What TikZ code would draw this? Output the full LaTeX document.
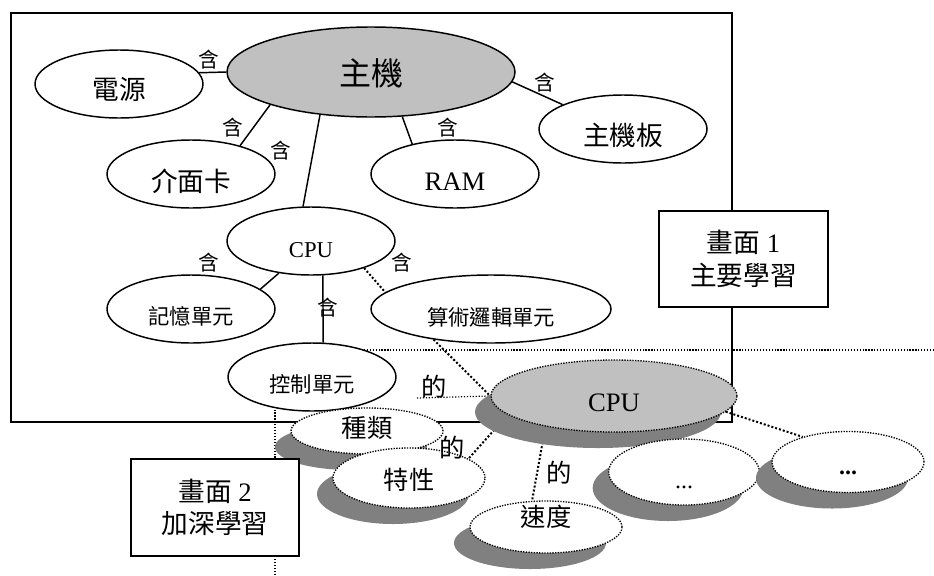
\documentclass[tikz,border=0pt]{standalone}
\usepackage{fontspec}
\setmainfont{Liberation Serif}
\newfontfamily\cjk{Noto Sans CJK TC}
\usetikzlibrary{shapes.geometric,shadows,backgrounds}
\definecolor{fillgray}{HTML}{C0C0C0}
\definecolor{shgray}{HTML}{808080}
\tikzset{
  solidell/.style={ellipse, draw, line width=1.1pt, fill=white, inner sep=0pt,
    minimum width=126pt, minimum height=51pt, text depth=0pt},
  dotell/.style={ellipse, draw, line width=1pt, dash pattern=on 1pt off 1pt,
    fill=white, inner sep=0pt, minimum width=114pt, text depth=0pt,
    drop shadow={shadow xshift=-12pt, shadow yshift=-12pt, fill=shgray, opacity=1}},
  fa/.style={font=\cjk\fontsize{20}{24}\selectfont},
  fb/.style={font=\cjk\fontsize{16}{20}\selectfont},
  fc/.style={font=\cjk\fontsize{19}{22}\selectfont},
  lbl/.style={inner sep=0pt, font=\cjk\fontsize{15.5}{17}\selectfont},
  dlbl/.style={inner sep=0pt, font=\cjk\fontsize{19}{22}\selectfont},
  conn/.style={line width=1.1pt},
  dconn/.style={line width=1.5pt, dash pattern=on 1.5pt off 1.5pt},
  guide/.style={line width=0.9pt, dash pattern=on 0.9pt off 1.3pt},
  screenbox/.style={draw, fill=white, line width=1.1pt, inner sep=0pt, align=center,
    font=\fontsize{20}{24.5}\selectfont},
}
\begin{document}
\begin{tikzpicture}[x=0.75pt, y=-0.75pt]
\useasboundingbox (0,0) rectangle (934,575);

% upper panel nodes
\node[solidell, fill=fillgray, minimum width=216pt, minimum height=67.5pt,
  font=\cjk\fontsize{24}{28}\selectfont] (zhuji) at (371,72) {主機};
\node[solidell, fa, text height=22.7pt] (dianyuan) at (119,84) {電源};
\node[solidell, fa, text height=25.7pt] (jiemian) at (191,174) {介面卡};
\node[solidell, font=\fontsize{20}{24}\selectfont, text height=25.2pt] (ram) at (455,174) {RAM};
\node[solidell, fa, text height=24.2pt] (zhujiban) at (623,129) {主機板};
\node[solidell, font=\fontsize{17}{20}\selectfont, text height=24.7pt] (cpu) at (311,241) {CPU};
\node[solidell, fb, text height=22.7pt] (jiyi) at (191,309) {記憶單元};
\node[solidell, fb, minimum width=180pt, text height=24.2pt] (suanshu) at (491,309) {算術邏輯單元};
\node[solidell, fb, text height=22.7pt] (kongzhi) at (312,377) {控制單元};

% lower panel nodes
\node[dotell, fc, minimum height=34.5pt, text height=10pt] (zhonglei) at (367,431) {種類};
\node[dotell, fc, minimum height=45pt, text height=17.4pt] (texing) at (409,478) {特性};
\node[dotell, fc, minimum height=39pt, text height=0pt, text depth=0.6pt] (sudu) at (546,527) {速度};
\node[dotell, fill=fillgray, minimum width=184.5pt, minimum height=54pt,
  font=\fontsize{20}{24}\selectfont, text height=23.7pt] (cpu2) at (614,396) {CPU};
\node[dotell, minimum width=113pt, minimum height=49.5pt,
  font=\fontsize{18}{20}\selectfont, text height=25pt] (etca) at (684,472) {...};
\node[dotell, minimum height=45.75pt,
  font=\bfseries\fontsize{18}{20}\selectfont, text height=19pt] (etcb) at (848,462) {...};

% screen boxes
\node[screenbox, minimum width=126.75pt, minimum height=72pt] (scra) at (743.5,259)
  {{\cjk 畫面} 1\\{\cjk 主要學習}};
\node[screenbox, minimum width=126pt, minimum height=72.75pt] (scrb) at (215,507.5)
  {{\cjk 畫面} 2\\{\cjk 加深學習}};

% labels
\node[lbl] (la) at (209,60) {含};
\node[lbl] (lb) at (233,128) {含};
\node[lbl] (lc) at (281,151) {含};
\node[lbl] (ld) at (448,128) {含};
\node[lbl] (le) at (545,83) {含};
\node[lbl] (lf) at (209,263) {含};
\node[lbl] (lg) at (328,308) {含};
\node[lbl] (lh) at (402,263) {含};
\node[dlbl] (da) at (434,387) {的};
\node[dlbl] (db) at (452,448) {的};
\node[dlbl] (dc) at (559,473) {的};

\coordinate (dstart) at (417,398);

\begin{scope}[on background layer]
  \draw[line width=1.1pt] (11,13) rectangle (732,422);
  \draw[guide] (275,575) -- (275,350) -- (934,350);
  \draw[conn] (dianyuan.8) -- (zhuji.180);
  \draw[conn] (zhuji.198) -- (jiemian.30);
  \draw[conn] (zhuji.220) -- (cpu.103);
  \draw[conn] (zhuji.-55) -- (ram.145);
  \draw[conn] (zhuji.-4) -- (zhujiban.158);
  \draw[conn] (cpu.225) -- (jiyi.16);
  \draw[conn] (cpu.-71) -- (kongzhi.72);
  \draw[dconn] (cpu.-27) -- (suanshu.171);
  \draw[dconn] (suanshu.208) -- (cpu2.180);
  \draw[guide] (dstart) -- (cpu2.180);
  \draw[dconn] (cpu2.190) -- (texing.18);
  \draw[dconn] (cpu2.204) -- (sudu.118);
  \draw[dconn] (cpu2.-8) -- (etcb.151);
\end{scope}
\end{tikzpicture}
\end{document}
